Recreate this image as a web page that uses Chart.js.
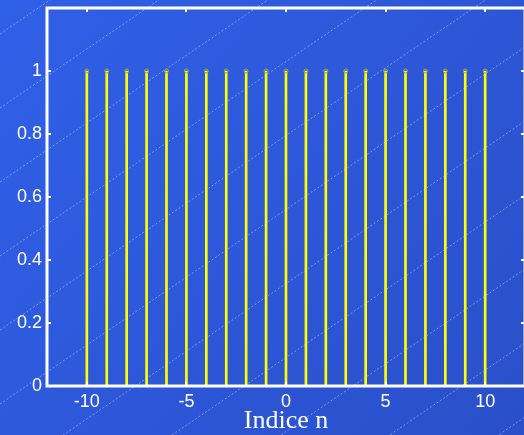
<!DOCTYPE html>
<html>
<head>
<meta charset="utf-8">
<script src="https://cdn.jsdelivr.net/npm/chart.js@4/dist/chart.umd.min.js"></script>
<style>
  html, body { margin: 0; padding: 0; overflow: hidden; background: #2d58da; }
  #wrap { width: 524px; height: 435px; overflow: hidden; }
  canvas { display: block; }
</style>
</head>
<body>
<div id="wrap"><canvas id="c" width="530" height="435"></canvas></div>
<script>
// Sample indices and the impulse train values x[n]
const nIndices = [-10, -9, -8, -7, -6, -5, -4, -3, -2, -1, 0, 1, 2, 3, 4, 5, 6, 7, 8, 9, 10];
const xValues  = [1, 1, 1, 1, 1, 1, 1, 1, 1, 1, 1, 1, 1, 1, 1, 1, 1, 1, 1, 1, 1];

// Axis ticks
const xTicks = [-10, -5, 0, 5, 10];
const yTicks = [0, 0.2, 0.4, 0.6, 0.8, 1];
const xLabel = 'Indice n';

const points = nIndices.map((n, i) => ({ x: n, y: xValues[i] }));

// Slide-style background: blue gradient with faint dotted diagonals
const backdrop = {
  id: 'backdrop',
  beforeDraw(chart) {
    const { ctx, width, height } = chart;
    ctx.save();
    const g = ctx.createLinearGradient(0, 0, width, height);
    g.addColorStop(0, '#3060e8');
    g.addColorStop(1, '#2a4fc9');
    ctx.fillStyle = g;
    ctx.fillRect(0, 0, width, height);
    ctx.strokeStyle = 'rgba(255,255,255,0.38)';
    ctx.lineWidth = 1;
    ctx.setLineDash([2, 2]);
    const slope = 0.68;
    for (let b = -40; b < height + width * slope + 80; b += 74) {
      ctx.beginPath();
      ctx.moveTo(0, b);
      ctx.lineTo(width, b - width * slope);
      ctx.stroke();
    }
    ctx.restore();
  }
};

// Boxed axes with inward tick marks
const boxAxes = {
  id: 'boxAxes',
  afterDatasetsDraw(chart) {
    const { ctx, chartArea: a, scales } = chart;
    ctx.save();
    ctx.strokeStyle = '#ffffff';
    ctx.lineWidth = 2;
    const tl = 4;
    xTicks.forEach(v => {
      const px = Math.round(scales.x.getPixelForValue(v));
      ctx.beginPath();
      ctx.moveTo(px, a.top); ctx.lineTo(px, a.top + tl);
      ctx.moveTo(px, a.bottom); ctx.lineTo(px, a.bottom - tl);
      ctx.stroke();
    });
    yTicks.forEach(v => {
      const py = Math.round(scales.y.getPixelForValue(v));
      ctx.beginPath();
      ctx.moveTo(a.left, py); ctx.lineTo(a.left + tl, py);
      ctx.moveTo(a.right, py); ctx.lineTo(a.right - tl, py);
      ctx.stroke();
    });
    ctx.lineWidth = 3;
    ctx.beginPath();
    ctx.rect(a.left, a.top, a.right - a.left, a.bottom - a.top);
    ctx.stroke();
    ctx.restore();
  }
};

new Chart(document.getElementById('c'), {
  data: {
    datasets: [
      {
        type: 'scatter',
        data: points,
        order: 0,
        pointRadius: 2,
        pointBorderWidth: 1,
        pointBorderColor: 'rgb(160,160,80)',
        pointBackgroundColor: 'rgba(0,0,0,0)'
      },
      {
        type: 'bar',
        data: points,
        order: 1,
        barThickness: 2,
        backgroundColor: '#ffff00',
        borderWidth: 0
      }
    ]
  },
  options: {
    responsive: false,
    animation: false,
    events: [],
    layout: { padding: { top: 8, right: 3, left: 0, bottom: 0 } },
    plugins: { legend: { display: false }, tooltip: { enabled: false } },
    scales: {
      x: {
        type: 'linear',
        min: -12,
        max: 12,
        offset: false,
        grid: { display: false, drawTicks: false },
        border: { display: false },
        afterBuildTicks(s) { s.ticks = xTicks.map(v => ({ value: v })); },
        afterFit(s) { s.height = 49; s.paddingLeft = 0; s.paddingRight = 0; },
        ticks: {
          color: '#ffffff',
          padding: 5,
          maxRotation: 0,
          autoSkip: false,
          callback: v => String(v),
          font: { family: 'Liberation Sans, Arial, sans-serif', size: 18 }
        },
        title: {
          display: true,
          text: xLabel,
          color: '#ffffff',
          padding: { top: 0, bottom: 0 },
          font: { family: 'Liberation Serif, Times New Roman, serif', size: 26, lineHeight: 1.1 }
        }
      },
      y: {
        type: 'linear',
        min: 0,
        max: 1.2,
        grid: { display: false, drawTicks: false },
        border: { display: false },
        afterBuildTicks(s) { s.ticks = yTicks.map(v => ({ value: v })); },
        afterFit(s) { s.width = 47; s.paddingTop = 0; s.paddingBottom = 0; },
        ticks: {
          color: '#ffffff',
          padding: 5,
          autoSkip: false,
          callback: v => String(v),
          font: { family: 'Liberation Sans, Arial, sans-serif', size: 18 }
        }
      }
    }
  },
  plugins: [backdrop, boxAxes]
});
</script>
</body>
</html>
